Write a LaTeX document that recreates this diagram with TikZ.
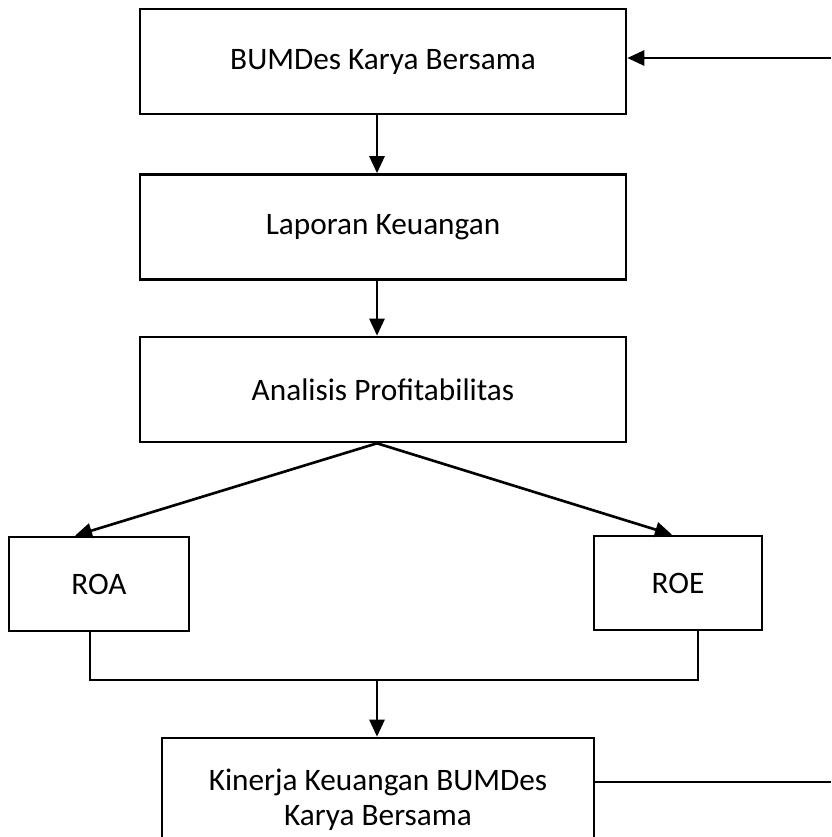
\documentclass[tikz,border=0pt]{standalone}
\usepackage{fontspec}
\setmainfont{Carlito}
\usetikzlibrary{arrows.meta}

\begin{document}
\begin{tikzpicture}[x=0.02cm, y=-0.02cm,
box/.style={rectangle, draw=black, line width=1.5pt, align=center, font=\fontsize{17.8}{20}\selectfont},
big/.style={box, minimum width=9.72cm, minimum height=2.1cm},
small/.style={box, minimum height=1.88cm},
line/.style={draw=black, line width=1.5pt},
arr/.style={line, -{Triangle[length=0.34cm, width=0.3cm]}},
]

\clip (0,0) rectangle (831,837);
\useasboundingbox (0,0) rectangle (831,837);

\node (bumdes) [big] at (383,61.5) {BUMDes Karya Bersama};
\node (lapkeu) [big] at (383,227) {Laporan Keuangan};
\node (profit) [big] at (383,389.5) {Analisis Profitabilitas};
\node (roa) [small, minimum width=3.6cm] at (99,584) {ROA};
\node (roe) [small, minimum width=3.36cm] at (678,583) {ROE};
\node (kinerja) [box, minimum width=8.64cm, minimum height=2.48cm] at (378,800) {Kinerja Keuangan BUMDes\\Karya Bersama};

\coordinate (split) at ([xshift=-0.12cm]profit.south);
\coordinate (join) at (377,680);
\coordinate (fbin) at (831,58);
\coordinate (fbout) at (831,782);

\draw [arr] ([xshift=-0.12cm]bumdes.south) -- ([xshift=-0.12cm]lapkeu.north);
\draw [arr] ([xshift=-0.12cm]lapkeu.south) -- (split |- profit.north);
\draw [arr] (split) -- ([xshift=-0.48cm]roa.north);
\draw [arr] (split) -- ([xshift=-0.12cm]roe.north);

\draw [line] ([xshift=-0.18cm]roa.south) |- (join) -| ([xshift=0.4cm]roe.south);
\draw [arr] (join) -- (join |- kinerja.north);

% feedback
\draw [line] (kinerja.east |- fbout) -- (fbout);
\draw [arr] (fbin) -- (bumdes.east |- fbin);

\end{tikzpicture}
\end{document}
